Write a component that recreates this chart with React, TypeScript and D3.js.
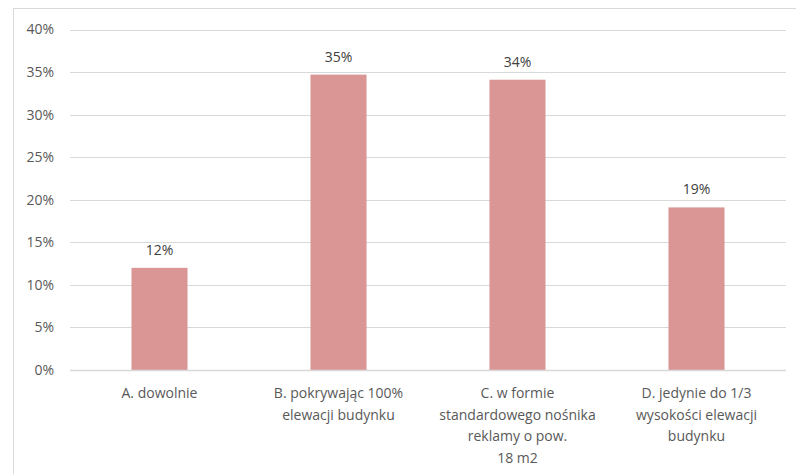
import React from "react";
import * as d3 from "d3";

const categories = [
  ["A. dowolnie"],
  ["B. pokrywając 100%", "elewacji budynku"],
  ["C. w formie", "standardowego nośnika", "reklamy o pow.", "18 m2"],
  ["D. jedynie do 1/3", "wysokości elewacji", "budynku"],
];
const values = [0.12, 0.347, 0.341, 0.191];
const valueLabels = ["12%", "35%", "34%", "19%"];
const yTicks = [0, 0.05, 0.1, 0.15, 0.2, 0.25, 0.3, 0.35, 0.4];

const W = 796;
const H = 474;
const left = 70;
const right = 786;
const top = 29.5;
const bottom = 370;
const FONT = "Open Sans, sans-serif";

export default function App() {
  const x = d3.scaleBand<number>().domain(d3.range(categories.length)).range([left, right]).paddingInner(0.687).paddingOuter(0.3435);
  const y = d3.scaleLinear().domain([0, 0.4]).range([bottom, top]);
  const fmt = d3.format(".0%");
  return (
    <svg width={W} height={H} style={{ position: "absolute", left: 0, top: 0 }} fontFamily={FONT}>
      <rect x={0} y={0} width={W} height={H} fill="#fff" />
      <rect x={13.5} y={8.5} width={W} height={H} fill="none" stroke="#d9d9d9" strokeWidth={1} />
      {yTicks.map((t) => (
        <g key={t}>
          <line x1={left} x2={right} y1={Math.round(y(t)) + 0.5} y2={Math.round(y(t)) + 0.5} stroke="#d9d9d9" strokeWidth={1} />
          <text x={54} y={y(t)} dy="0.35em" textAnchor="end" fontSize={14} fill="#595959">
            {fmt(t)}
          </text>
        </g>
      ))}
      {values.map((v, i) => (
        <g key={i}>
          <rect x={x(i)} y={y(v)} width={x.bandwidth()} height={y(0) - y(v)} fill="#d99694" />
          <text x={(x(i) ?? 0) + x.bandwidth() / 2} y={y(v) - 18} dy="0.35em" textAnchor="middle" fontSize={14} fill="#404040">
            {valueLabels[i]}
          </text>
        </g>
      ))}
      <line x1={left} x2={right} y1={370.5} y2={370.5} stroke="#d9d9d9" strokeWidth={1.5} />
      {categories.map((lines, i) => (
        <text key={i} textAnchor="middle" fontSize={14} fill="#595959">
          {lines.map((l, j) => (
            <tspan key={j} x={(x(i) ?? 0) + x.bandwidth() / 2} y={393 + j * 21.6} dy="0.35em">
              {l}
            </tspan>
          ))}
        </text>
      ))}
    </svg>
  );
}
